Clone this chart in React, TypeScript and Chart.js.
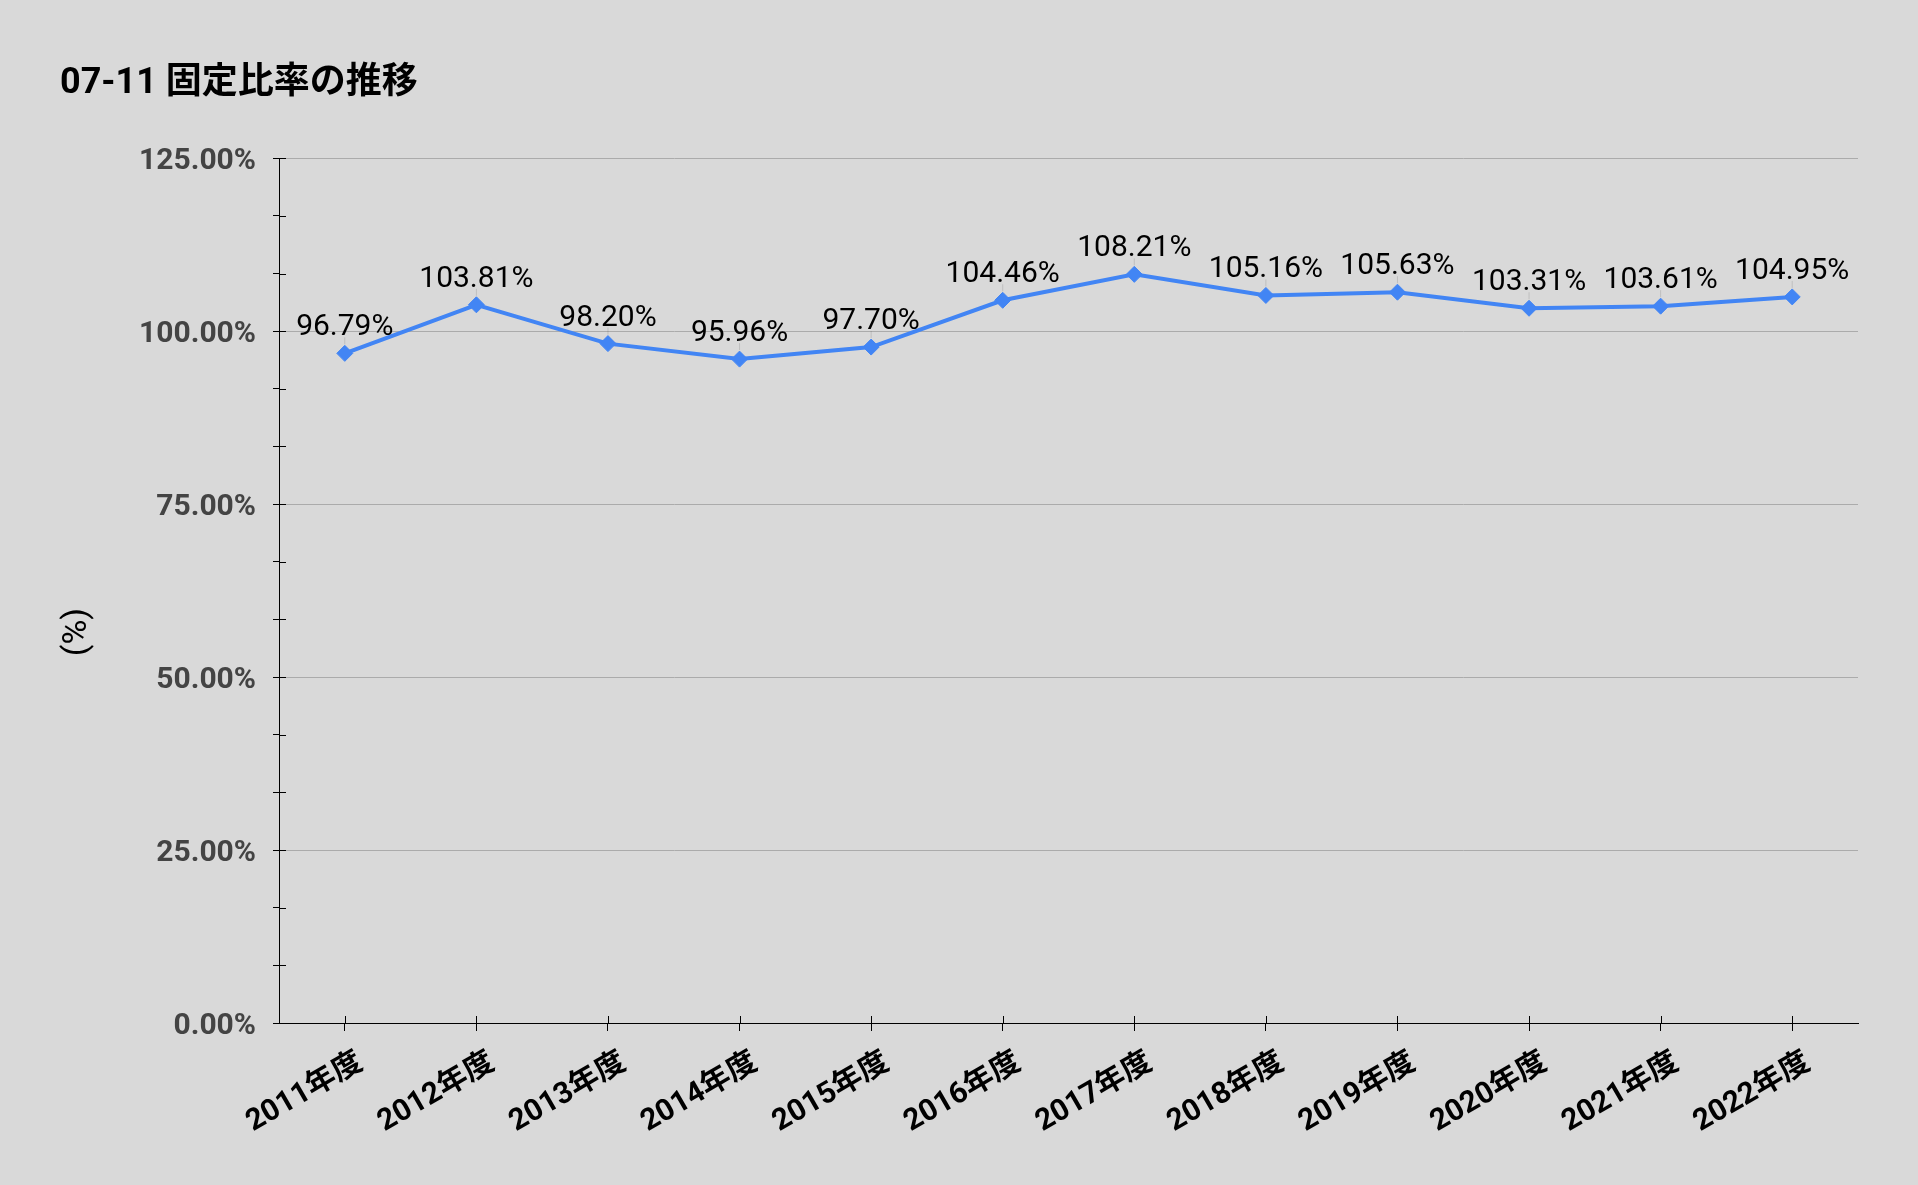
import React, { useEffect, useRef } from "react";
import { Chart, registerables } from "chart.js";

Chart.register(...registerables);

// 年度ごとの固定比率 (%)
const years = [
  "2011年度",
  "2012年度",
  "2013年度",
  "2014年度",
  "2015年度",
  "2016年度",
  "2017年度",
  "2018年度",
  "2019年度",
  "2020年度",
  "2021年度",
  "2022年度",
];
const ratios = [96.79, 103.81, 98.2, 95.96, 97.7, 104.46, 108.21, 105.16, 105.63, 103.31, 103.61, 104.95];

const yMin = 0;
const yMax = 125;
const majorStep = 25;
const minorStep = 25 / 3;

const FONT = "Roboto, 'Noto Sans CJK JP', sans-serif";
const BLUE = "#4285f4";

const isMajor = (v: number) => Math.abs(v / majorStep - Math.round(v / majorStep)) < 1e-6;

// 各点の上に値を表示する
const valueLabels = {
  id: "valueLabels",
  afterDatasetsDraw(chart: Chart) {
    const { ctx } = chart;
    const meta = chart.getDatasetMeta(0);
    ctx.save();
    ctx.font = `30px ${FONT}`;
    ctx.fillStyle = "#000";
    ctx.textAlign = "center";
    ctx.textBaseline = "alphabetic";
    meta.data.forEach((pt: any, i: number) => {
      ctx.strokeStyle = "rgba(0,0,0,0.12)";
      ctx.lineWidth = 1;
      ctx.beginPath();
      ctx.moveTo(pt.x, pt.y - 9);
      ctx.lineTo(pt.x, pt.y - 16);
      ctx.stroke();
      ctx.fillText(`${ratios[i].toFixed(2)}%`, pt.x, pt.y - 18);
    });
    ctx.restore();
  },
};

// 軸の目盛り線を軸の内側にも伸ばす + 縦軸タイトル
const axisExtras = {
  id: "axisExtras",
  afterDraw(chart: Chart) {
    const { ctx, chartArea } = chart;
    const xs: any = chart.scales.x;
    const ys: any = chart.scales.y;
    ctx.save();
    ctx.strokeStyle = "#000";
    ctx.lineWidth = 1;
    ctx.beginPath();
    ys.ticks.forEach((_t: any, i: number) => {
      const y = Math.round(ys.getPixelForTick(i)) + 0.5;
      ctx.moveTo(chartArea.left, y);
      ctx.lineTo(chartArea.left + 7, y);
    });
    xs.ticks.forEach((_t: any, i: number) => {
      const x = Math.round(xs.getPixelForTick(i)) + 0.5;
      ctx.moveTo(x, chartArea.bottom);
      ctx.lineTo(x, chartArea.bottom - 7);
    });
    ctx.stroke();

    ctx.translate(77, 632);
    ctx.rotate(-Math.PI / 2);
    ctx.font = `34px ${FONT}`;
    ctx.fillStyle = "#000";
    ctx.textAlign = "center";
    ctx.textBaseline = "middle";
    ctx.fillText("(%)", 0, 0);
    ctx.restore();
  },
};

const FixedRatioChart: React.FC = () => {
  const canvasRef = useRef<HTMLCanvasElement>(null);
  const chartRef = useRef<Chart | null>(null);

  useEffect(() => {
    document.body.style.margin = "0";
    if (!canvasRef.current) return;
    if (chartRef.current) chartRef.current.destroy();

    chartRef.current = new Chart(canvasRef.current, {
      type: "line",
      data: {
        labels: years,
        datasets: [
          {
            data: ratios,
            borderColor: BLUE,
            backgroundColor: BLUE,
            borderWidth: 4,
            pointStyle: "rectRot",
            pointRadius: 8,
            pointBorderWidth: 1,
            tension: 0,
          },
        ],
      },
      options: {
        animation: false,
        responsive: true,
        maintainAspectRatio: false,
        layout: { padding: { left: 60, right: 60, top: 0, bottom: 0 } },
        plugins: {
          legend: { display: false },
          tooltip: { enabled: false },
          title: {
            display: true,
            text: "07-11 固定比率の推移",
            align: "start",
            color: "#000",
            font: { family: FONT, size: 36, weight: "bold" },
            padding: { top: 62, bottom: 53 },
          },
        },
        scales: {
          x: {
            offset: true,
            grid: { display: true, drawOnChartArea: false, color: "#000", tickLength: 8 },
            border: { color: "#000", width: 1 },
            ticks: {
              color: "#000",
              autoSkip: false,
              minRotation: 30,
              maxRotation: 30,
              padding: 14,
              labelOffset: 16,
              font: { family: FONT, size: 30, weight: "bold" },
            },
            afterFit: (scale: any) => {
              scale.height = 162;
            },
          },
          y: {
            min: yMin,
            max: yMax,
            border: { color: "#000", width: 1 },
            grid: {
              color: (c: any) => (isMajor(c.tick.value) ? "#ababab" : "rgba(0,0,0,0)"),
              tickColor: "#000",
              tickLength: 6,
            },
            ticks: {
              stepSize: minorStep,
              color: "#444",
              padding: 17,
              labelOffset: 3,
              font: { family: FONT, size: 30, weight: "bold" },
              callback: (v: any) => (isMajor(Number(v)) ? `${Number(v).toFixed(2)}%` : ""),
            },
            afterFit: (scale: any) => {
              scale.width = 219;
            },
          },
        },
      },
      plugins: [valueLabels, axisExtras],
    });

    return () => {
      if (chartRef.current) {
        chartRef.current.destroy();
        chartRef.current = null;
      }
    };
  }, []);

  return (
    <div style={{ width: 1918, height: 1185, background: "#d9d9d9", position: "relative" }}>
      <canvas ref={canvasRef} />
    </div>
  );
};

export default function App() {
  return <FixedRatioChart />;
}
